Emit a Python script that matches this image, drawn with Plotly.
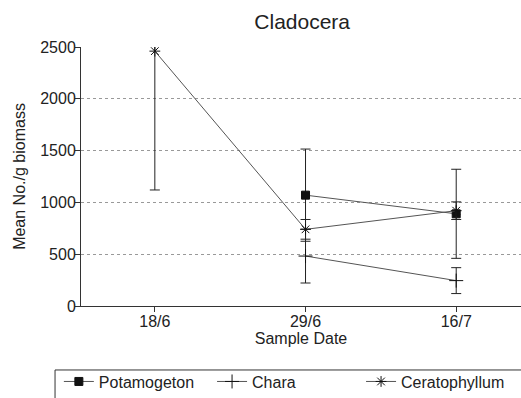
import plotly.graph_objects as go

dates = ["18/6", "29/6", "16/7"]

pot_dates = ["29/6", "16/7"]
pot_mean = [1070, 890]
pot_err = [445, 430]

chara_dates = ["29/6", "16/7"]
chara_mean = [482, 245]
chara_err = [260, 125]

cera_dates = ["18/6", "29/6", "16/7"]
cera_mean = [2460, 740, 920]
cera_err = [1340, 95, 85]

yticks = [0, 500, 1000, 1500, 2000, 2500]

font = "Liberation Sans, Arial, sans-serif"

fig = go.Figure()

def add(name, x, y, err, symbol, size, legend, lw=1):
    fig.add_trace(go.Scatter(
        x=x, y=y, name=name, mode="lines+markers", legend=legend,
        line=dict(color="#555", width=lw),
        marker=dict(symbol=symbol, size=size, color="#111",
                    line=dict(color="#111", width=1)),
        error_y=dict(type="data", array=err, arrayminus=err, visible=True,
                     color="#222", thickness=1, width=5),
        cliponaxis=True,
    ))

add("Potamogeton", pot_dates, pot_mean, pot_err, "square", 8, "legend")
add("Chara", chara_dates, chara_mean, chara_err, "cross-thin-open", 10, "legend2")
add("Ceratophyllum", cera_dates, cera_mean, cera_err, "asterisk-open", 9, "legend3")

def leg(x):
    return dict(orientation="h", xref="container", yref="container",
                x=x, xanchor="left", y=0.084, yanchor="top",
                borderwidth=0, font=dict(size=16), itemwidth=30,
                bgcolor="rgba(0,0,0,0)")

fig.update_layout(
    width=521, height=398,
    margin=dict(l=81, r=0, t=47, b=92),
    paper_bgcolor="white", plot_bgcolor="white",
    font=dict(family=font, size=16, color="#222"),
    title=dict(text="Cladocera", x=0.58, xanchor="center", y=0.945, yanchor="middle",
               font=dict(size=21, family=font, color="#222")),
    xaxis=dict(type="category", categoryorder="array", categoryarray=dates,
               range=[-0.49, 2.43], showline=True, linecolor="#333", linewidth=1,
               ticks="outside", ticklen=5, tickcolor="#333", showgrid=False,
               ticklabelstandoff=-4,
               title=dict(text="Sample Date", standoff=2, font=dict(size=16)),
               tickfont=dict(size=16)),
    yaxis=dict(range=[0, 2500], tickvals=yticks, showline=True, linecolor="#333",
               linewidth=1, ticks="outside", ticklen=5, tickcolor="#333",
               showgrid=True, gridcolor="#999", griddash="dot", gridwidth=1,
               zeroline=False, ticklabelstandoff=-4,
               title=dict(text="Mean No./g biomass", standoff=10, font=dict(size=16)),
               tickfont=dict(size=16)),
    showlegend=True,
    legend=leg(0.113),
    legend2=leg(0.407),
    legend3=leg(0.693),
    shapes=[dict(type="rect", xref="paper", yref="paper", x0=-0.059, x1=1.1,
                 y0=-0.5, y1=-0.247, line=dict(color="#333", width=1))],
)

fig.write_html("out.html")
